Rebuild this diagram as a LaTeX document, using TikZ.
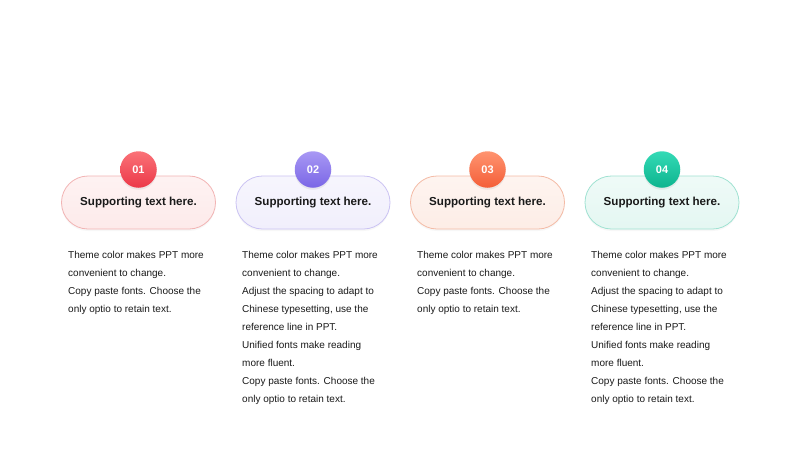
\documentclass[tikz,border=0pt]{standalone}
\usepackage{fontspec}
\setmainfont{Liberation Sans}
\usetikzlibrary{shadows}
\definecolor{cAtop}{HTML}{FA7278}\definecolor{cAbot}{HTML}{EC3848}
\definecolor{fA}{HTML}{FDEAEA}\definecolor{bA}{HTML}{F2B4B4}
\definecolor{cBtop}{HTML}{A898F4}\definecolor{cBbot}{HTML}{7A66E6}
\definecolor{fB}{HTML}{F1EFFC}\definecolor{bB}{HTML}{CBC3F3}
\definecolor{cCtop}{HTML}{FF9470}\definecolor{cCbot}{HTML}{F45E38}
\definecolor{fC}{HTML}{FDEDE6}\definecolor{bC}{HTML}{F4BBA6}
\definecolor{cDtop}{HTML}{34DAB6}\definecolor{cDbot}{HTML}{0DB48E}
\definecolor{fD}{HTML}{E4F7F2}\definecolor{bD}{HTML}{A0E2D2}
\definecolor{txt}{HTML}{1A1A1A}
\tikzset{
  pill/.style={rounded corners=26.5pt, minimum width=154pt, minimum height=53pt, inner sep=0pt,
     line width=0.8pt, font=\fontsize{11.6}{14}\selectfont\bfseries, text=txt},
  badge/.style={circle, minimum size=36.5pt, inner sep=0pt, font=\fontsize{11}{13}\selectfont\bfseries, text=white},
  bodyline/.style={anchor=base west, inner sep=0pt, font=\fontsize{10}{12}\selectfont, text=txt}
}
\begin{document}
\begin{tikzpicture}[x=1pt,y=-1pt]
\useasboundingbox (0,0) rectangle (800,450);
\fill[white] (0,0) rectangle (800,450);
\foreach \i/\cx/\ct/\cb/\f/\b in {1/138.5/cAtop/cAbot/fA/bA, 2/313/cBtop/cBbot/fB/bB, 3/487.5/cCtop/cCbot/fC/bC, 4/662/cDtop/cDbot/fD/bD}{
  \node[pill, draw=\b, top color=\f!60!white, bottom color=\f, drop shadow={opacity=0.06, shadow xshift=0pt, shadow yshift=-2pt}] (p\i) at (\cx,202.5) {Supporting text here.};
  \node[badge, top color=\ct, bottom color=\cb, drop shadow={opacity=0.12, shadow xshift=0pt, shadow yshift=-2pt}] (c\i) at (\cx,169.5) {0\i};
}
\foreach \i/\x in {1/68, 3/417}{
  \node[bodyline] (t\i a) at (\x,258) {Theme color makes PPT more};
  \node[bodyline] (t\i b) at (\x,276) {convenient to change.};
  \node[bodyline] (t\i c) at (\x,294) {Copy paste fonts. Choose the};
  \node[bodyline] (t\i d) at (\x,312) {only optio to retain text.};
}
\foreach \i/\x in {2/242, 4/591}{
  \node[bodyline] (t\i a) at (\x,258) {Theme color makes PPT more};
  \node[bodyline] (t\i b) at (\x,276) {convenient to change.};
  \node[bodyline] (t\i c) at (\x,294) {Adjust the spacing to adapt to};
  \node[bodyline] (t\i d) at (\x,312) {Chinese typesetting, use the};
  \node[bodyline] (t\i e) at (\x,330) {reference line in PPT.};
  \node[bodyline] (t\i f) at (\x,348) {Unified fonts make reading};
  \node[bodyline] (t\i g) at (\x,366) {more fluent.};
  \node[bodyline] (t\i h) at (\x,384) {Copy paste fonts. Choose the};
  \node[bodyline] (t\i i) at (\x,402) {only optio to retain text.};
}
\end{tikzpicture}
\end{document}
